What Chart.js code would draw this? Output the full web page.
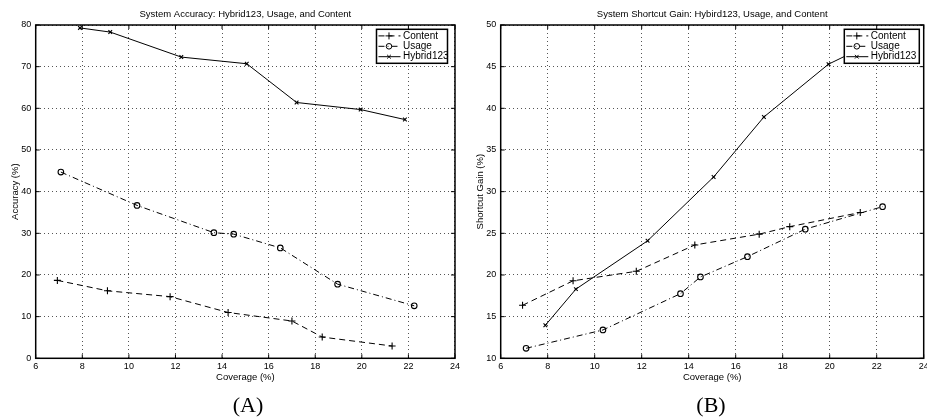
<!DOCTYPE html>
<html>
<head>
<meta charset="utf-8">
<script src="https://cdn.jsdelivr.net/npm/chart.js@4.4.1/dist/chart.umd.min.js"></script>
<style>
    html, body { margin: 0; padding: 0; background: #fff; overflow: hidden; }
    #wrap { position: relative; width: 927px; height: 419px; }
    canvas { position: absolute; top: 0; }
    #chart-a { left: 0; }
    #chart-b { left: 456px; }
    .panel-label {
        position: absolute; top: 392px; width: 80px; text-align: center;
        font-family: "Liberation Serif", "DejaVu Serif", serif; font-size: 22px; color: #000;
    }
</style>
</head>
<body>
<div id="wrap">
    <canvas id="chart-a" width="463" height="419"></canvas>
    <canvas id="chart-b" width="480" height="419"></canvas>
    <div class="panel-label" style="left: 208px;">(A)</div>
    <div class="panel-label" style="left: 671px;">(B)</div>
</div>
<script>
// coverage (%) of each run, per system
const contentCov = [6.93, 9.08, 11.77, 14.26, 17.0, 18.3, 21.3];
const usageCov   = [7.08, 10.35, 13.65, 14.5, 16.5, 18.96, 22.25];
const hybridCov  = [7.9, 9.2, 12.25, 15.06, 17.2, 19.95, 21.85];

// accuracy (%) - chart A
const contentAcc = [18.7, 16.2, 14.8, 11.0, 8.95, 5.1, 2.95];
const usageAcc   = [44.7, 36.7, 30.15, 29.8, 26.5, 17.8, 12.6];
const hybridAcc  = [79.3, 78.3, 72.3, 70.7, 61.4, 59.7, 57.3];

// shortcut gain (%) - chart B
const contentGain = [16.36, 19.3, 20.44, 23.6, 24.9, 25.8, 27.5];
const usageGain   = [11.2, 13.4, 17.76, 19.76, 22.2, 25.5, 28.2];
const hybridGain  = [13.96, 18.3, 24.1, 31.76, 38.96, 45.3, 47.9];

const seriesNames = ['Content', 'Usage', 'Hybrid123'];
const coverageTicks = [6, 8, 10, 12, 14, 16, 18, 20, 22, 24];

const FONT = '"Liberation Sans", Arial, Helvetica, sans-serif';
Chart.defaults.font.family = FONT;
Chart.defaults.color = '#000';

function toPoints(xs, ys) {
    return xs.map((x, i) => ({ x: x, y: ys[i] }));
}

// title over the plot box, frame, inward ticks and the boxed legend (matlab look)
const matlabFrame = {
    id: 'matlabFrame',
    afterDatasetsDraw(chart, args, opts) {
        const { ctx, chartArea: a, scales } = chart;
        ctx.save();

        ctx.fillStyle = '#000';
        ctx.font = '9.5px ' + FONT;
        ctx.textAlign = 'center';
        ctx.textBaseline = 'middle';
        ctx.fillText(opts.title, (a.left + a.right) / 2, 14);

        ctx.strokeStyle = '#000';
        ctx.lineWidth = 1;
        ctx.beginPath();
        scales.x.ticks.forEach(t => {
            const px = scales.x.getPixelForValue(t.value);
            ctx.moveTo(px, a.bottom); ctx.lineTo(px, a.bottom - 4);
            ctx.moveTo(px, a.top); ctx.lineTo(px, a.top + 4);
        });
        scales.y.ticks.forEach(t => {
            const py = scales.y.getPixelForValue(t.value);
            ctx.moveTo(a.left, py); ctx.lineTo(a.left + 4, py);
            ctx.moveTo(a.right, py); ctx.lineTo(a.right - 4, py);
        });
        ctx.stroke();

        ctx.lineWidth = 1.5;
        ctx.strokeRect(a.left, a.top, a.width, a.height);

        // legend
        const w = opts.width, h = 34;
        const x = a.right - opts.right - w;
        const y = a.top + 4.3;
        ctx.fillStyle = '#fff';
        ctx.fillRect(x, y, w, h);
        ctx.strokeRect(x, y, w, h);

        chart.data.datasets.forEach((ds, i) => {
            const cy = y + 6.6 + i * 10.4;
            ctx.strokeStyle = '#000';
            ctx.lineWidth = 1;
            ctx.setLineDash(ds.borderDash || []);
            ctx.beginPath();
            ctx.moveTo(x + 2, cy);
            ctx.lineTo(x + 24, cy);
            ctx.stroke();
            ctx.setLineDash([]);
            ctx.fillStyle = 'rgba(0,0,0,0)';
            Chart.helpers.drawPoint(ctx, {
                pointStyle: ds.pointStyle, radius: ds.pointRadius, borderWidth: 1, rotation: 0
            }, x + 12.5, cy);
            ctx.fillStyle = '#000';
            ctx.font = '10px ' + FONT;
            ctx.textBaseline = 'middle';
            ctx.textAlign = 'left';
            ctx.fillText(ds.label, x + 26.5, cy);
        });
        ctx.restore();
    }
};

function makeChart(canvasId, cfg) {
    const ctx = document.getElementById(canvasId).getContext('2d');
    const common = {
        borderColor: '#000',
        borderWidth: 1,
        pointBorderColor: '#000',
        pointBackgroundColor: 'rgba(0,0,0,0)',
        pointBorderWidth: 1.1,
        fill: false,
        tension: 0
    };

    return new Chart(ctx, {
        type: 'line',
        data: {
            datasets: [
                Object.assign({}, common, {
                    label: seriesNames[0],
                    data: toPoints(contentCov, cfg.content),
                    borderDash: [6, 4],
                    pointStyle: 'cross',
                    pointRadius: 3.5
                }),
                Object.assign({}, common, {
                    label: seriesNames[1],
                    data: toPoints(usageCov, cfg.usage),
                    borderDash: [6, 3, 1, 3],
                    pointStyle: 'circle',
                    pointRadius: 2.8
                }),
                Object.assign({}, common, {
                    label: seriesNames[2],
                    data: toPoints(hybridCov, cfg.hybrid),
                    pointStyle: 'crossRot',
                    pointRadius: 2.6
                })
            ]
        },
        options: {
            responsive: false,
            devicePixelRatio: 1,
            animation: false,
            layout: {
                padding: { left: 0, right: cfg.padRight, top: 25, bottom: 35.6 }
            },
            plugins: {
                legend: { display: false },
                tooltip: { enabled: false },
                matlabFrame: { title: cfg.title, width: cfg.legendWidth, right: cfg.legendRight }
            },
            scales: {
                x: {
                    type: 'linear',
                    min: 6,
                    max: 24,
                    afterBuildTicks: (scale) => {
                        scale.ticks = coverageTicks.map(v => ({ value: v }));
                    },
                    afterFit: (scale) => { scale.height = 25.1; },
                    grid: { color: '#555', lineWidth: 1, drawTicks: false },
                    border: { display: false, dash: [1, 3] },
                    ticks: { font: { size: 9 }, padding: 3, color: '#000' },
                    title: {
                        display: true,
                        text: 'Coverage (%)',
                        font: { size: 9.5 },
                        padding: { top: 0, bottom: 0 },
                        color: '#000'
                    }
                },
                y: {
                    min: cfg.yMin,
                    max: cfg.yMax,
                    afterFit: (scale) => { scale.width = cfg.yWidth; },
                    grid: { color: '#555', lineWidth: 1, drawTicks: false },
                    border: { display: false, dash: [1, 3] },
                    ticks: { stepSize: cfg.yStep, font: { size: 9 }, padding: 4.5, color: '#000' },
                    title: {
                        display: true,
                        text: cfg.yTitle,
                        font: { size: 9.5 },
                        padding: { top: cfg.yTitlePad, bottom: 0 },
                        color: '#000'
                    }
                }
            }
        },
        plugins: [matlabFrame]
    });
}

makeChart('chart-a', {
    title: 'System Accuracy: Hybrid123, Usage, and Content',
    yTitle: 'Accuracy (%)',
    content: contentAcc,
    usage: usageAcc,
    hybrid: hybridAcc,
    yMin: 0, yMax: 80, yStep: 10,
    yWidth: 35.7, yTitlePad: 9.3,
    padRight: 6.2,
    legendWidth: 71, legendRight: 7.5
});

makeChart('chart-b', {
    title: 'System Shortcut Gain: Hybird123, Usage, and Content',
    yTitle: 'Shortcut Gain (%)',
    content: contentGain,
    usage: usageGain,
    hybrid: hybridGain,
    yMin: 10, yMax: 50, yStep: 5,
    yWidth: 44.7, yTitlePad: 18.3,
    padRight: 12.3,
    legendWidth: 75, legendRight: 4.4
});
</script>
</body>
</html>
